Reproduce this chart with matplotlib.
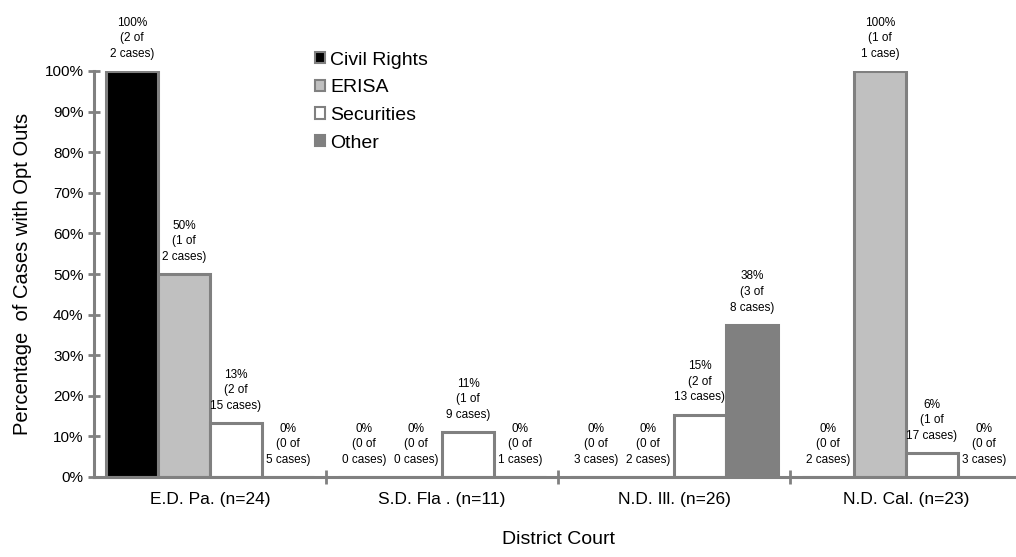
import numpy as np
import matplotlib
matplotlib.use('Agg')
import matplotlib.pyplot as plt
from matplotlib.patches import Patch

plt.rcParams['font.family'] = ['Liberation Sans', 'DejaVu Sans']

# Opt-out counts per district court and case type
courts = ['E.D. Pa. (n=24)', 'S.D. Fla . (n=11)', 'N.D. Ill. (n=26)', 'N.D. Cal. (n=23)']
case_types = ['Civil Rights', 'ERISA', 'Securities', 'Other']
opt_outs = [
    [2, 1, 2, 0],   # E.D. Pa.
    [0, 0, 1, 0],   # S.D. Fla.
    [0, 0, 2, 3],   # N.D. Ill.
    [0, 1, 1, 0],   # N.D. Cal.
]
totals = [
    [2, 2, 15, 5],
    [0, 0, 9, 1],
    [3, 2, 13, 8],
    [2, 1, 17, 3],
]

fills = ['#000000', '#c0c0c0', '#ffffff', '#808080']
edge = '#808080'

fig = plt.figure(figsize=(10.16, 5.57), dpi=100)
ax = fig.add_axes([94 / 1016, 80 / 557, 928 / 1016, 406 / 557])

x = np.arange(len(courts))
width = 0.224

for j, ctype in enumerate(case_types):
    for i in range(len(courts)):
        n = totals[i][j]
        k = opt_outs[i][j]
        pct = k / n if n else 0.0
        xpos = x[i] + (j - 1.5) * width
        ax.bar(xpos, pct, width, color=fills[j], edgecolor=edge, linewidth=2.2,
               zorder=2)
        unit = 'case' if n == 1 and k == 1 else 'cases'
        label = f'{pct * 100:.0f}%\n({k} of\n{n} {unit})'
        ax.annotate(label, (xpos, pct), xytext=(0, 8), textcoords='offset points',
                    ha='center', va='bottom', fontsize=8.5, linespacing=1.4,
                    annotation_clip=False)

ax.set_xlim(-0.5, 3.5)
ax.set_ylim(0, 1)

ax.set_yticks(np.arange(0, 1.01, 0.1))
ax.set_yticklabels([f'{v}%' for v in range(0, 101, 10)], fontsize=11)
ax.set_xticks(x)
ax.set_xticklabels(courts, fontsize=12.5)
ax.set_xticks([0.5, 1.5, 2.5], minor=True)

ax.tick_params(axis='y', direction='inout', length=9, width=2, color=edge, pad=3)
ax.tick_params(axis='x', which='major', length=0, pad=11)
ax.tick_params(axis='x', which='minor', direction='inout', length=10, width=2,
               color=edge)

for side in ['top', 'right']:
    ax.spines[side].set_visible(False)
for side in ['left', 'bottom']:
    ax.spines[side].set_color(edge)
    ax.spines[side].set_linewidth(2.2)

ax.set_ylabel('Percentage  of Cases with Opt Outs', fontsize=14.5, labelpad=9)
ax.set_xlabel('District Court', fontsize=14, labelpad=17)

handles = [Patch(facecolor=fills[j], edgecolor=edge, linewidth=1.5)
           for j in range(len(case_types))]
ax.legend(handles, case_types, loc='upper left', bbox_to_anchor=(0.238, 1.048),
          frameon=False, fontsize=14, handlelength=0.5, handleheight=0.5,
          handletextpad=0.3, labelspacing=0.55, borderpad=0, borderaxespad=0)

fig.savefig('out.png', dpi=100)
